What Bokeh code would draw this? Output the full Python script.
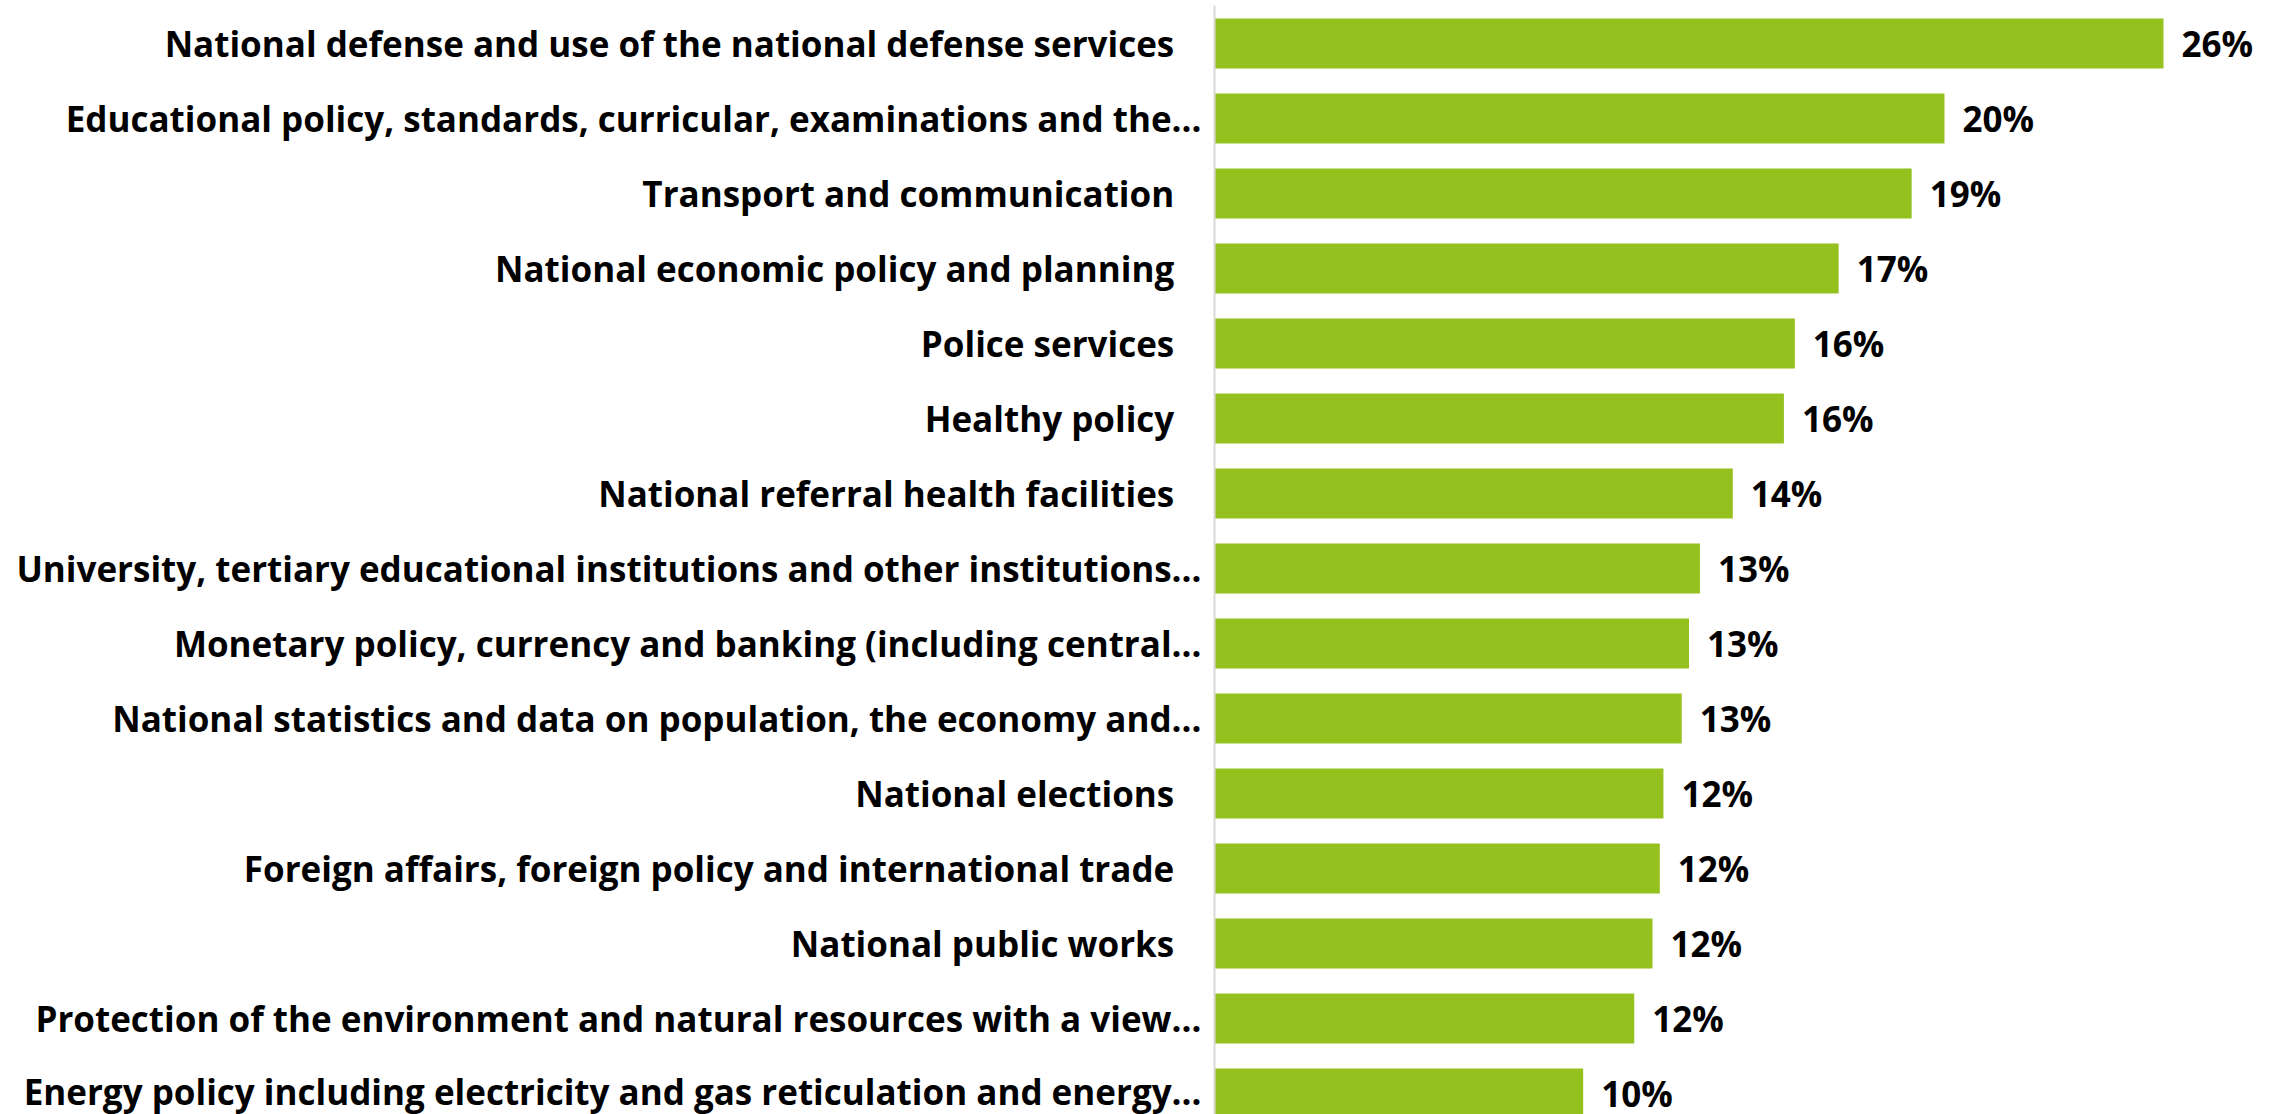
from bokeh.plotting import figure
from bokeh.models import Range1d, FixedTicker, ColumnDataSource
from bokeh.core.properties import value
from bokeh.embed import file_html
from bokeh.resources import INLINE

categories = [
    "National defense and use of the national defense services",
    "Educational policy, standards, curricular, examinations and the…",
    "Transport and communication",
    "National economic policy and planning",
    "Police services",
    "Healthy policy",
    "National referral health facilities",
    "University, tertiary educational institutions and other institutions…",
    "Monetary policy, currency and banking (including central…",
    "National statistics and data on population, the economy and…",
    "National elections",
    "Foreign affairs, foreign policy and international trade",
    "National public works",
    "Protection of the environment and natural resources with a view…",
    "Energy policy including electricity and gas reticulation and energy…",
]
values = [26.0, 20.0, 19.1, 17.1, 15.9, 15.6, 14.2, 13.3, 13.0, 12.8, 12.3, 12.2, 12.0, 11.5, 10.1]
value_labels = ["26%", "20%", "19%", "17%", "16%", "16%", "14%", "13%", "13%", "13%",
                "12%", "12%", "12%", "12%", "10%"]

n = len(categories)
ypos = [n - 1 - i for i in range(n)]

FONT = "Open Sans"
W, H = 2280, 1114
LEFT = 1214
TOP = 5
PX_PER_PCT = 36.5
PITCH = 75.0

x_end = (W - LEFT) / PX_PER_PCT
y_top = (n - 1) + 38.0 / PITCH
y_bot = y_top - (H - TOP) / PITCH

src = ColumnDataSource(dict(y=ypos, v=values, lab=value_labels))

p = figure(width=W, height=H, output_backend="svg", toolbar_location=None,
           x_range=Range1d(0, x_end), y_range=Range1d(y_bot, y_top),
           min_border_left=LEFT, min_border_right=0, min_border_top=TOP, min_border_bottom=0)

p.hbar(y="y", right="v", left=0, height=50.0 / PITCH, source=src,
       fill_color="#95C11F", line_color=None)

p.text(x="v", y="y", text="lab", source=src, x_offset=18, y_offset=0,
       text_align="left", text_baseline="middle",
       text_font=value(FONT), text_font_style="bold", text_font_size="35px",
       text_color="#000000")

p.xaxis.visible = False
p.grid.visible = False
p.outline_line_color = None
p.background_fill_color = "white"
p.border_fill_color = "white"

yax = p.yaxis[0]
yax.ticker = FixedTicker(ticks=ypos)
overrides = {}
for i, c in enumerate(categories):
    lab = c if c.endswith("…") else c + "\u00a0" * 3
    overrides[ypos[i]] = lab
yax.major_label_overrides = overrides
yax.major_tick_line_color = None
yax.minor_tick_line_color = None
yax.major_tick_out = 0
yax.major_tick_in = 0
yax.major_label_standoff = 13
yax.axis_line_color = "#D9D9D9"
yax.axis_line_width = 2
yax.major_label_text_font = FONT
yax.major_label_text_font_style = "bold"
yax.major_label_text_font_size = "35px"
yax.major_label_text_color = "#000000"

open("out.html", "w").write(file_html(p, INLINE))
